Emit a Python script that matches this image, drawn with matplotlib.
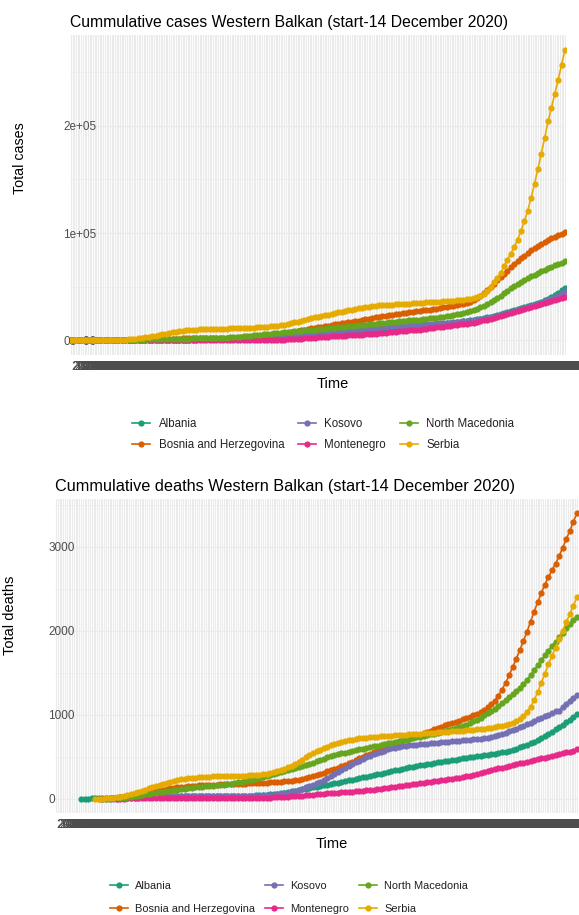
import matplotlib
matplotlib.use("Agg")
import matplotlib.pyplot as plt
import numpy as np
import pandas as pd

plt.rcParams['font.family'] = ['Liberation Sans', 'DejaVu Sans']

# one x category per calendar day, values reported every second day
dates = pd.date_range('2020-02-26', '2020-12-14', freq='D')
date_labels = list(dates.strftime('%Y-%m-%d'))
report_dates = dates[::2]

countries = ['Albania', 'Bosnia and Herzegovina', 'Kosovo', 'Montenegro',
             'North Macedonia', 'Serbia']
colors = ['#1B9E77', '#D95F02', '#7570B3', '#E7298A', '#66A61E', '#E6AB02']

# cumulative confirmed cases, in thousands
cases_albania = [
    0, 0, 0, 0, 0, 0, 0, 0.01, 0.04, 0.06,
    0.08, 0.1, 0.13, 0.16, 0.19, 0.21, 0.24, 0.26, 0.30, 0.36,
    0.40, 0.43, 0.47, 0.50, 0.54, 0.58, 0.61, 0.64, 0.68, 0.71,
    0.74, 0.76, 0.78, 0.80, 0.82, 0.84, 0.86, 0.88, 0.90, 0.92,
    0.94, 0.96, 0.98, 1.0, 1.02, 1.05, 1.08, 1.11, 1.14, 1.2,
    1.25, 1.3, 1.4, 1.5, 1.6, 1.7, 1.8, 1.9, 2.0, 2.1,
    2.2, 2.35, 2.5, 2.65, 2.8, 3.0, 3.2, 3.4, 3.6, 3.8,
    4.0, 4.2, 4.4, 4.6, 4.8, 5.0, 5.2, 5.4, 5.6, 5.9,
    6.2, 6.5, 6.8, 7.1, 7.4, 7.7, 8.0, 8.3, 8.6, 8.9,
    9.2, 9.5, 9.8, 10.1, 10.4, 10.7, 11.0, 11.3, 11.6, 11.9,
    12.2, 12.5, 12.8, 13.1, 13.4, 13.7, 14.0, 14.3, 14.6, 15.0,
    15.4, 15.8, 16.2, 16.6, 17.0, 17.4, 17.8, 18.3, 18.8, 19.3,
    19.8, 20.4, 21.0, 21.6, 22.3, 23.0, 23.8, 24.6, 25.4, 26.3,
    27.2, 28.1, 29.0, 30.0, 31.0, 32.0, 33.0, 34.0, 35.0, 36.0,
    37.5, 39.0, 40.6, 42.3, 44.3, 46.6, 49.0,
]
cases_bosnia = [
    0, 0, 0, 0, 0, 0, 0.01, 0.01, 0.02, 0.03,
    0.05, 0.09, 0.13, 0.2, 0.25, 0.32, 0.42, 0.53, 0.62, 0.7,
    0.8, 0.9, 0.98, 1.05, 1.12, 1.2, 1.27, 1.34, 1.42, 1.5,
    1.6, 1.7, 1.78, 1.84, 1.9, 1.95, 2.0, 2.05, 2.1, 2.15,
    2.2, 2.25, 2.3, 2.35, 2.4, 2.45, 2.5, 2.55, 2.6, 2.7,
    2.8, 2.9, 3.0, 3.1, 3.2, 3.4, 3.6, 3.9, 4.2, 4.6,
    5.0, 5.5, 6.0, 6.5, 7.1, 7.7, 8.3, 8.9, 9.5, 10.1,
    10.7, 11.3, 11.9, 12.4, 12.9, 13.4, 13.9, 14.4, 14.9, 15.4,
    15.9, 16.4, 16.9, 17.4, 17.9, 18.5, 19.1, 19.7, 20.3, 20.9,
    21.5, 22.0, 22.5, 23.0, 23.5, 24.0, 24.5, 25.0, 25.5, 26.0,
    26.4, 26.8, 27.2, 27.6, 28.0, 28.4, 28.8, 29.2, 29.7, 30.2,
    30.7, 31.2, 31.8, 32.4, 33.0, 33.7, 34.4, 35.2, 36.0, 37.5,
    39.5, 41.8, 44.3, 47.0, 50.0, 53.0, 56.0, 59.0, 62.0, 65.0,
    68.0, 71.0, 73.8, 76.5, 79.0, 81.5, 83.8, 86.0, 88.0, 90.0,
    91.8, 93.5, 95.0, 96.5, 98.0, 99.4, 100.7,
]
cases_kosovo = [
    0, 0, 0, 0, 0, 0, 0, 0, 0.01, 0.02,
    0.03, 0.05, 0.06, 0.07, 0.08, 0.1, 0.12, 0.14, 0.17, 0.2,
    0.25, 0.3, 0.35, 0.4, 0.45, 0.5, 0.55, 0.6, 0.65, 0.7,
    0.74, 0.78, 0.8, 0.82, 0.85, 0.88, 0.9, 0.93, 0.95, 0.97,
    0.99, 1.0, 1.01, 1.02, 1.03, 1.04, 1.05, 1.07, 1.09, 1.12,
    1.15, 1.2, 1.25, 1.3, 1.4, 1.5, 1.65, 1.8, 2.0, 2.2,
    2.4, 2.6, 2.8, 3.0, 3.3, 3.6, 4.0, 4.4, 4.8, 5.1,
    5.4, 5.8, 6.2, 6.6, 7.0, 7.3, 7.6, 7.9, 8.2, 8.5,
    8.8, 9.1, 9.4, 9.7, 10.0, 10.3, 10.6, 10.9, 11.2, 11.5,
    11.8, 12.1, 12.4, 12.7, 13.0, 13.2, 13.4, 13.6, 13.8, 14.0,
    14.2, 14.4, 14.6, 14.8, 15.0, 15.2, 15.4, 15.6, 15.8, 16.0,
    16.2, 16.4, 16.6, 16.9, 17.2, 17.5, 17.8, 18.1, 18.5, 18.9,
    19.3, 19.8, 20.3, 20.9, 21.5, 22.2, 22.9, 23.7, 24.5, 25.4,
    26.3, 27.2, 28.2, 29.2, 30.2, 31.2, 32.2, 33.2, 34.2, 35.2,
    36.3, 37.5, 38.8, 40.2, 41.8, 43.8, 46.0,
]
cases_montenegro = [
    0, 0, 0, 0, 0, 0, 0, 0, 0, 0,
    0, 0.01, 0.02, 0.04, 0.06, 0.08, 0.1, 0.11, 0.13, 0.16,
    0.2, 0.23, 0.25, 0.27, 0.29, 0.3, 0.31, 0.31, 0.32, 0.32,
    0.32, 0.32, 0.32, 0.32, 0.32, 0.32, 0.32, 0.32, 0.32, 0.32,
    0.32, 0.32, 0.32, 0.32, 0.32, 0.32, 0.32, 0.32, 0.32, 0.33,
    0.34, 0.35, 0.36, 0.37, 0.38, 0.39, 0.4, 0.42, 0.44, 0.47,
    0.5, 0.53, 0.6, 0.75, 0.9, 1.1, 1.3, 1.55, 1.8, 2.05,
    2.3, 2.5, 2.7, 2.9, 3.1, 3.3, 3.5, 3.7, 3.9, 4.1,
    4.3, 4.5, 4.7, 4.9, 5.1, 5.3, 5.5, 5.7, 5.9, 6.1,
    6.3, 6.6, 6.9, 7.2, 7.5, 7.8, 8.1, 8.4, 8.7, 9.0,
    9.3, 9.6, 9.9, 10.2, 10.5, 10.9, 11.3, 11.7, 12.1, 12.5,
    12.9, 13.3, 13.7, 14.1, 14.5, 14.9, 15.3, 15.7, 16.1, 16.5,
    17.0, 17.8, 18.6, 19.4, 20.3, 21.2, 22.1, 23.0, 23.9, 24.8,
    25.7, 26.6, 27.5, 28.4, 29.3, 30.2, 31.1, 32.0, 32.9, 33.8,
    34.7, 35.6, 36.5, 37.5, 38.5, 39.6, 40.7,
]
cases_north_macedonia = [
    0, 0, 0, 0, 0, 0.003, 0.003, 0.005, 0.007, 0.015,
    0.03, 0.06, 0.1, 0.15, 0.2, 0.26, 0.3, 0.35, 0.42, 0.5,
    0.6, 0.7, 0.8, 0.9, 1.0, 1.1, 1.2, 1.3, 1.4, 1.5,
    1.55, 1.6, 1.65, 1.7, 1.75, 1.8, 1.85, 1.9, 1.95, 2.0,
    2.05, 2.1, 2.2, 2.3, 2.4, 2.5, 2.6, 2.8, 3.0, 3.3,
    3.6, 3.9, 4.2, 4.5, 4.8, 5.1, 5.4, 5.7, 6.0, 6.3,
    6.6, 6.9, 7.2, 7.5, 7.8, 8.1, 8.4, 8.7, 9.0, 9.3,
    9.6, 9.9, 10.2, 10.5, 10.8, 11.1, 11.4, 11.7, 12.0, 12.3,
    12.6, 12.9, 13.2, 13.5, 13.8, 14.1, 14.4, 14.7, 15.0, 15.3,
    15.6, 15.9, 16.2, 16.5, 16.8, 17.1, 17.4, 17.7, 18.0, 18.3,
    18.6, 18.9, 19.2, 19.5, 19.8, 20.1, 20.5, 20.9, 21.3, 21.7,
    22.1, 22.6, 23.1, 23.6, 24.2, 24.8, 25.5, 26.2, 27.0, 28.2,
    29.5, 31.0, 32.5, 34.0, 35.8, 37.7, 39.7, 41.8, 44.0, 46.2,
    48.4, 50.5, 52.5, 54.4, 56.2, 58.0, 59.7, 61.3, 62.9, 64.4,
    65.9, 67.3, 68.6, 69.9, 71.2, 72.5, 73.8,
]
cases_serbia = [
    0, 0, 0, 0, 0, 0, 0, 0.02, 0.03, 0.06,
    0.08, 0.13, 0.2, 0.3, 0.4, 0.5, 0.7, 0.9, 1.2, 1.6,
    2.0, 2.4, 2.9, 3.4, 4.0, 4.6, 5.3, 5.8, 6.3, 6.9,
    7.5, 8.0, 8.6, 9.1, 9.5, 9.8, 10.0, 10.2, 10.3, 10.4,
    10.5, 10.6, 10.7, 10.8, 10.9, 11.0, 11.1, 11.2, 11.3, 11.4,
    11.5, 11.6, 11.7, 11.8, 11.9, 12.1, 12.3, 12.5, 12.7, 13.0,
    13.4, 13.8, 14.3, 14.8, 15.4, 16.1, 16.8, 17.6, 18.5, 19.3,
    20.0, 20.7, 21.4, 22.0, 22.7, 23.4, 24.1, 24.8, 25.5, 26.2,
    26.8, 27.4, 28.0, 28.6, 29.3, 30.0, 30.6, 31.1, 31.6, 32.0,
    32.3, 32.6, 32.8, 33.0, 33.2, 33.4, 33.6, 33.8, 34.0, 34.2,
    34.4, 34.6, 34.8, 35.0, 35.2, 35.4, 35.6, 35.8, 36.0, 36.2,
    36.4, 36.6, 36.8, 37.0, 37.3, 37.6, 37.9, 38.3, 38.8, 39.4,
    40.2, 41.5, 43.5, 46.0, 50.0, 54.0, 58.0, 63.0, 69.0, 75.0,
    81.0, 87.0, 94.0, 102.0, 111.0, 121.0, 133.0, 146.0, 160.0, 174.0,
    189.0, 204.0, 217.0, 230.0, 243.0, 257.0, 271.0,
]

# cumulative deaths (None before the first reported death)
deaths_albania = [
    None, None, None, None, None, None, None, 1, 1, 2,
    4, 5, 6, 8, 10, 11, 13, 15, 16, 17,
    19, 20, 21, 22, 23, 24, 25, 26, 27, 28,
    29, 30, 31, 31, 31, 31, 31, 31, 31, 31,
    31, 31, 31, 32, 32, 32, 32, 33, 33, 33,
    34, 34, 35, 36, 37, 38, 40, 42, 45, 48,
    52, 56, 60, 66, 72, 80, 88, 96, 105, 114,
    122, 130, 138, 146, 154, 162, 170, 178, 186, 194,
    202, 211, 220, 229, 238, 247, 256, 265, 274, 282,
    291, 301, 311, 321, 331, 340, 349, 357, 365, 373,
    381, 389, 397, 405, 412, 419, 426, 433, 440, 447,
    455, 462, 468, 474, 480, 486, 492, 498, 504, 510,
    516, 522, 528, 535, 543, 552, 562, 573, 585, 598,
    612, 626, 643, 661, 681, 703, 726, 750, 775, 801,
    828, 855, 883, 912, 943, 977, 1015,
]
deaths_bosnia = [
    None, None, None, None, None, None, None, None, None, None,
    None, None, 1, 2, 4, 6, 9, 13, 18, 24,
    30, 37, 45, 53, 61, 69, 77, 85, 93, 101,
    109, 116, 123, 129, 135, 140, 145, 150, 154, 157,
    160, 162, 164, 166, 168, 170, 172, 174, 175, 176,
    178, 179, 180, 181, 183, 185, 187, 189, 191, 193,
    195, 198, 201, 204, 207, 211, 215, 220, 227, 236,
    250, 260, 272, 285, 298, 312, 326, 341, 356, 372,
    390, 408, 426, 444, 462, 480, 498, 516, 534, 552,
    570, 587, 603, 619, 635, 651, 667, 683, 699, 715,
    731, 747, 763, 779, 795, 811, 827, 843, 859, 875,
    890, 904, 918, 932, 946, 961, 977, 994, 1012, 1032,
    1060, 1090, 1125, 1170, 1230, 1300, 1380, 1470, 1570, 1670,
    1770, 1880, 1990, 2110, 2230, 2340, 2450, 2550, 2640, 2720,
    2800, 2890, 2990, 3090, 3190, 3300, 3400,
]
deaths_kosovo = [
    None, None, None, None, None, None, None, None, None, None,
    None, None, None, 1, 1, 1, 2, 3, 5, 7,
    8, 10, 12, 14, 16, 18, 20, 22, 24, 26,
    27, 28, 29, 29, 29, 29, 29, 29, 29, 29,
    29, 29, 30, 30, 30, 30, 30, 30, 30, 30,
    31, 31, 32, 33, 34, 35, 37, 39, 41, 43,
    45, 48, 52, 57, 64, 72, 82, 94, 107, 121,
    136, 152, 168, 186, 205, 225, 247, 270, 294, 318,
    342, 366, 390, 413, 435, 456, 476, 495, 513, 530,
    546, 561, 575, 588, 600, 610, 618, 625, 631, 636,
    641, 645, 649, 653, 657, 661, 665, 669, 673, 677,
    681, 685, 689, 693, 697, 701, 705, 709, 713, 718,
    723, 730, 738, 748, 760, 773, 787, 802, 818, 835,
    852, 870, 889, 908, 927, 946, 965, 984, 1003, 1022,
    1040, 1050, 1095, 1130, 1165, 1200, 1235,
]
deaths_montenegro = [
    None, None, None, None, None, None, None, None, None, None,
    None, None, None, None, None, None, None, 1, 2, 3,
    4, 5, 6, 6, 7, 7, 8, 8, 9, 9,
    9, 9, 9, 9, 9, 9, 9, 9, 9, 9,
    9, 9, 9, 9, 9, 9, 9, 9, 9, 9,
    9, 9, 9, 9, 9, 10, 10, 11, 12, 13,
    14, 16, 18, 20, 23, 26, 29, 32, 35, 38,
    41, 44, 48, 52, 56, 60, 64, 68, 72, 75,
    78, 81, 84, 87, 90, 93, 96, 99, 103, 108,
    113, 118, 123, 129, 135, 141, 147, 153, 159, 165,
    171, 177, 183, 189, 195, 201, 207, 213, 219, 225,
    231, 237, 243, 250, 258, 267, 277, 287, 297, 307,
    317, 328, 339, 350, 361, 371, 381, 391, 401, 411,
    421, 431, 441, 451, 461, 471, 481, 491, 501, 511,
    521, 531, 541, 552, 563, 575, 590,
]
deaths_north_macedonia = [
    None, None, None, None, None, None, None, None, None, None,
    None, None, None, 1, 2, 3, 5, 7, 10, 13,
    17, 24, 31, 38, 45, 52, 59, 66, 73, 80,
    86, 92, 98, 104, 110, 115, 120, 125, 130, 135,
    140, 144, 148, 152, 156, 160, 165, 170, 175, 181,
    188, 195, 203, 211, 219, 228, 237, 247, 257, 268,
    280, 292, 304, 316, 328, 340, 352, 364, 376, 388,
    402, 417, 432, 447, 462, 477, 492, 505, 518, 530,
    541, 551, 561, 570, 579, 588, 597, 606, 615, 624,
    633, 642, 651, 660, 669, 678, 687, 696, 705, 714,
    723, 732, 741, 750, 759, 768, 777, 786, 795, 804,
    814, 826, 839, 853, 868, 884, 902, 922, 944, 968,
    994, 1020, 1046, 1075, 1108, 1142, 1176, 1212, 1248, 1285,
    1322, 1365, 1415, 1470, 1530, 1590, 1650, 1710, 1765, 1818,
    1870, 1925, 1980, 2030, 2080, 2125, 2170,
]
deaths_serbia = [
    None, None, None, None, None, None, None, None, None, None,
    None, 1, 2, 3, 5, 8, 12, 17, 23, 30,
    40, 52, 65, 80, 95, 110, 125, 140, 155, 168,
    180, 192, 203, 213, 222, 230, 237, 243, 248, 252,
    256, 259, 262, 264, 266, 268, 270, 271, 272, 273,
    274, 275, 276, 277, 278, 280, 283, 287, 292, 298,
    306, 316, 328, 342, 358, 376, 396, 418, 442, 467,
    492, 517, 541, 564, 585, 604, 621, 637, 652, 665,
    677, 688, 698, 706, 713, 719, 724, 728, 732, 736,
    740, 743, 746, 749, 752, 755, 758, 761, 764, 767,
    770, 773, 776, 779, 782, 785, 788, 791, 794, 797,
    800, 803, 806, 809, 812, 815, 818, 822, 826, 831,
    836, 842, 848, 855, 863, 872, 882, 894, 908, 925,
    950, 985, 1030, 1095, 1175, 1270, 1380, 1490, 1600, 1700,
    1800, 1900, 2000, 2100, 2200, 2300, 2400,
]

cases = [cases_albania, cases_bosnia, cases_kosovo, cases_montenegro,
         cases_north_macedonia, cases_serbia]
deaths = [deaths_albania, deaths_bosnia, deaths_kosovo, deaths_montenegro,
          deaths_north_macedonia, deaths_serbia]

W, H = 579, 915
GREY_TEXT = '#4D4D4D'
GRID = '#EBEBEB'


def rect(left, top, right, bottom):
    return [left / W, 1 - bottom / H, (right - left) / W, (bottom - top) / H]


def draw_panel(ax, series, scale, yticks, ylabels, yminor):
    x = dates.get_indexer(report_dates)
    for name, color, vals in zip(countries, colors, series):
        y = np.array(vals, dtype=float) * scale
        ax.plot(x, y, '-o', color=color, lw=1.2, ms=4.5, mew=0,
                label=name, zorder=3)

    ax.set_xlim(-0.6, len(dates) - 0.4)
    ax.set_xticks(np.arange(len(dates)))
    ax.set_xticklabels(date_labels, ha='left', fontsize=8.4, color=GREY_TEXT)
    ax.set_yticks(yticks, labels=ylabels, ha='left', fontsize=8.5,
                  color=GREY_TEXT)
    ax.set_yticks(yminor, minor=True)

    ax.tick_params(axis='both', which='both', length=0)
    ax.tick_params(axis='y', pad=5)
    ax.tick_params(axis='x', pad=4)

    ax.grid(axis='x', color=GRID, lw=0.8)
    ax.grid(axis='y', which='major', color=GRID, lw=0.9)
    ax.grid(axis='y', which='minor', color=GRID, lw=0.5)
    ax.set_axisbelow(True)
    for s in ax.spines.values():
        s.set_visible(False)


fig = plt.figure(figsize=(W / 100, H / 100), dpi=100)

# cases
ax1 = fig.add_axes(rect(70, 35, 566, 355))
draw_panel(ax1, cases, 1000, [0, 1e5, 2e5], ['0e+00', '1e+05', '2e+05'],
           [0.5e5, 1.5e5, 2.5e5])
ax1.set_title('Cummulative cases Western Balkan (start-14 December 2020)',
              loc='left', fontsize=11.3, pad=6)
fig.text(20 / W, 1 - 158 / H, 'Total cases', rotation=90,
         ha='center', va='center', fontsize=10.3)
fig.text(333 / W, 1 - 384 / H, 'Time', ha='center', va='center', fontsize=10.5)
ax1.legend(ncol=3, loc='upper left', bbox_to_anchor=(132 / W, 1 - 418 / H),
           bbox_transform=fig.transFigure, frameon=False, fontsize=8.3,
           handlelength=1.6, handletextpad=0.7, columnspacing=1.2,
           labelspacing=0.75, borderpad=0, borderaxespad=0,
           labelcolor='#222222')

# deaths
ax2 = fig.add_axes(rect(55, 499, 578, 813))
draw_panel(ax2, deaths, 1, [0, 1000, 2000, 3000],
           ['0', '1000', '2000', '3000'], [500, 1500, 2500, 3500])
ax2.set_title('Cummulative deaths Western Balkan (start-14 December 2020)',
              loc='left', fontsize=11.7, pad=6)
fig.text(10 / W, 1 - 615 / H, 'Total deaths', rotation=90,
         ha='center', va='center', fontsize=10.5)
fig.text(332 / W, 1 - 844 / H, 'Time', ha='center', va='center', fontsize=10.5)
ax2.legend(ncol=3, loc='upper left', bbox_to_anchor=(110 / W, 1 - 881 / H),
           bbox_transform=fig.transFigure, frameon=False, fontsize=7.9,
           handlelength=1.6, handletextpad=0.7, columnspacing=0.9,
           labelspacing=1.2, borderpad=0, borderaxespad=0,
           labelcolor='#222222')

fig.savefig('out.png', dpi=100)
